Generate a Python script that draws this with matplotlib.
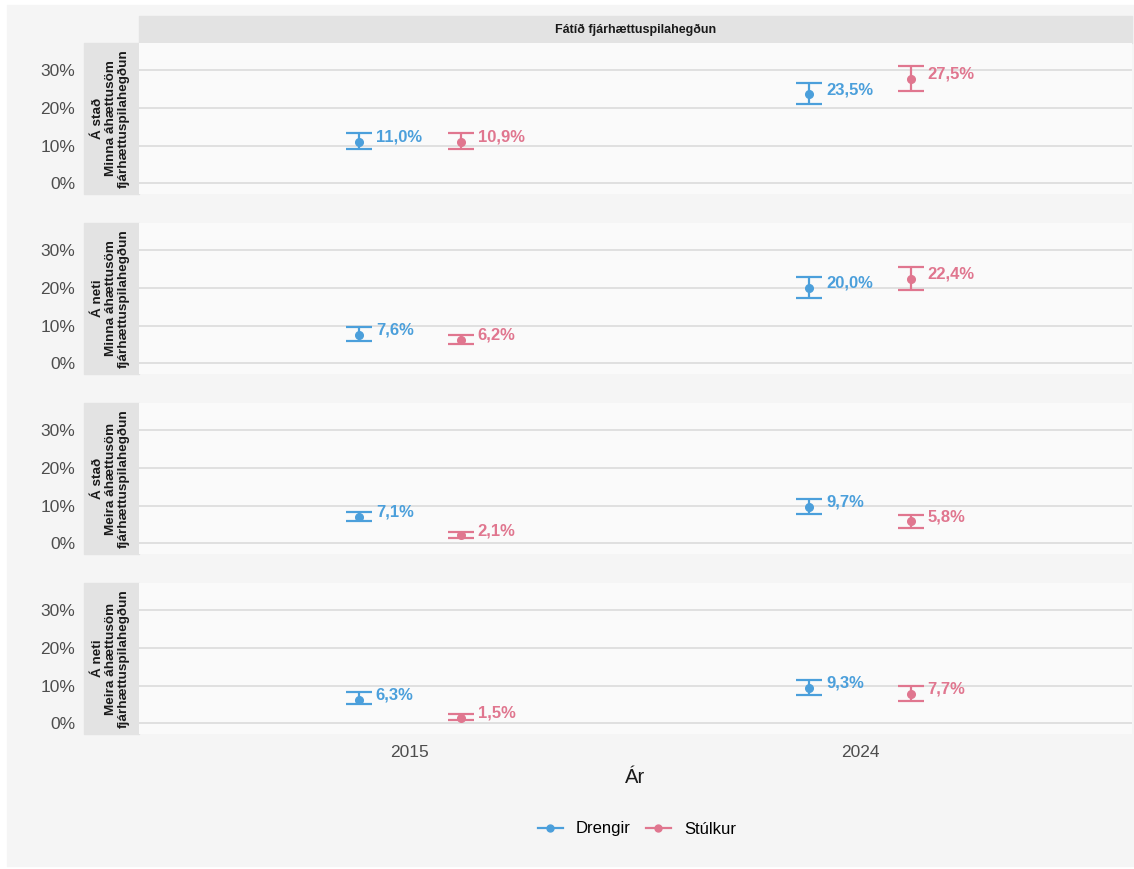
import matplotlib.pyplot as plt
from matplotlib.patches import Rectangle
from matplotlib.lines import Line2D

plt.rcParams['font.family'] = ['Liberation Sans', 'DejaVu Sans']

years = ['2015', '2024']
groups = ['Drengir', 'Stúlkur']
facets = ['Á stað\nMinna áhættusöm\nfjárhættuspilahegðun',
          'Á neti\nMinna áhættusöm\nfjárhættuspilahegðun',
          'Á stað\nMeira áhættusöm\nfjárhættuspilahegðun',
          'Á neti\nMeira áhættusöm\nfjárhættuspilahegðun']
top_strip = 'Fátíð fjárhættuspilahegðun'

# values per facet: [2015, 2024]
drengir = [[11.0, 23.5], [7.6, 20.0], [7.1, 9.7], [6.3, 9.3]]
drengir_lo = [[9.2, 21.0], [6.0, 17.4], [5.8, 7.8], [5.0, 7.4]]
drengir_hi = [[13.2, 26.6], [9.5, 22.9], [8.4, 11.8], [8.2, 11.4]]
stulkur = [[10.9, 27.5], [6.2, 22.4], [2.1, 5.8], [1.5, 7.7]]
stulkur_lo = [[9.2, 24.5], [5.0, 19.5], [1.3, 4.1], [0.8, 6.0]]
stulkur_hi = [[13.3, 31.0], [7.4, 25.5], [2.9, 7.6], [2.4, 10.0]]

colors = {'Drengir': '#4b9fdb', 'Stúlkur': '#e0768f'}
W, H = 1134, 869
fig = plt.figure(figsize=(W / 100, H / 100), dpi=100, facecolor='white')
fig.patches.append(Rectangle((7 / W, 3 / H), 1 - 7 / W, 1 - 8 / H,
                             transform=fig.transFigure, color='#f5f5f5', zorder=-10))

px_left, px_right = 139, 1132
panel_tops = [43, 223, 403, 583]
panel_h = 151
dodge = 0.113

# top strip
fig.patches.append(Rectangle((px_left / W, 1 - 43 / H), (px_right - px_left) / W, 27 / H,
                             transform=fig.transFigure, color='#e3e3e3', zorder=-5))
fig.text((px_left + px_right) / 2 / W, 1 - 29.5 / H, top_strip, ha='center', va='center',
         fontsize=9, fontweight='bold', color='#1a1a1a')

axes = []
for i, lab in enumerate(facets):
    top = panel_tops[i]
    ax = fig.add_axes([px_left / W, 1 - (top + panel_h) / H, (px_right - px_left) / W, panel_h / H])
    ax.set_facecolor('#fafafa')
    for s in ax.spines.values():
        s.set_visible(False)
    ax.set_xlim(-0.602, 1.604)
    ax.set_ylim(-2.8, 37.1)
    ax.set_yticks([0, 10, 20, 30])
    ax.set_yticklabels(['0%', '10%', '20%', '30%'])
    ax.grid(axis='y', color='#d9d9d9', lw=1.1)
    ax.set_axisbelow(True)
    ax.tick_params(length=0, labelsize=12.5, labelcolor='#4d4d4d', pad=46)
    for j, (g, vals, lo, hi) in enumerate([
            ('Drengir', drengir[i], drengir_lo[i], drengir_hi[i]),
            ('Stúlkur', stulkur[i], stulkur_lo[i], stulkur_hi[i])]):
        xs = [k + (-dodge if j == 0 else dodge) for k in range(len(years))]
        yerr = [[v - l for v, l in zip(vals, lo)], [h - v for v, h in zip(vals, hi)]]
        ax.errorbar(xs, vals, yerr=yerr, fmt='o', color=colors[g], ms=5.5,
                    elinewidth=1.6, capsize=9.7, capthick=1.6)
        for x, v in zip(xs, vals):
            ax.annotate(f'{v:.1f}%'.replace('.', ','), (x, v), xytext=(12, 3.5),
                        textcoords='offset points', ha='left', va='center',
                        fontsize=12, fontweight='bold', color=colors[g])
    ax.set_xticks(range(len(years)))
    if i < len(facets) - 1:
        ax.set_xticklabels([])
    else:
        ax.set_xticklabels(years)
        ax.tick_params(axis='x', pad=8)
        ax.set_xlabel('Ár', fontsize=14.5, color='#1a1a1a', labelpad=6)
    # left strip
    fig.patches.append(Rectangle((84 / W, 1 - (top + panel_h) / H), 55 / W, panel_h / H,
                                 transform=fig.transFigure, color='#e3e3e3', zorder=-5))
    fig.text(111 / W, 1 - (top + panel_h / 2) / H, lab, ha='center', va='center',
             rotation=90, fontsize=9.7, fontweight='bold', color='#1a1a1a', linespacing=1.05)
    axes.append(ax)

handles = [Line2D([0], [0], color=colors[g], marker='o', ms=5, lw=1.6) for g in groups]
fig.legend(handles, groups, loc='center', bbox_to_anchor=(637 / W, 1 - 829 / H), ncol=2,
           frameon=False, fontsize=12, handlelength=1.5, handletextpad=0.8,
           columnspacing=0.9)

fig.savefig('out.png', dpi=100, facecolor=fig.get_facecolor())
